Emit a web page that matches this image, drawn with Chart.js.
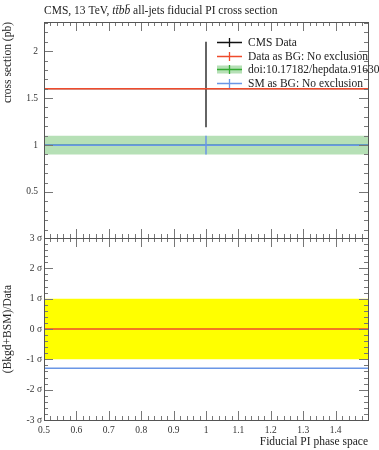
<!DOCTYPE html>
<html><head><meta charset="utf-8">
<script src="https://cdn.jsdelivr.net/npm/chart.js@4/dist/chart.umd.min.js"></script>
<style>
html,body{margin:0;padding:0;background:#fff;}
#wrap{position:relative;width:379px;height:450px;overflow:hidden;background:#fff;}
#top{position:absolute;left:0;top:0;}
#bot{position:absolute;left:0;top:230px;}
</style></head><body>
<div id="wrap"><canvas id="top" width="379" height="240"></canvas><canvas id="bot" width="379" height="220"></canvas></div>
<script>
// ---- data ----
const xRange = [0.5, 1.5];
const xTickLabels = [0.5, 0.6, 0.7, 0.8, 0.9, 1, 1.1, 1.2, 1.3, 1.4];
const yTopTicks = [0.5, 1, 1.5, 2];
const yTopRange = [0.01, 2.31];
const yBotTicks = [-3, -2, -1, 0, 1, 2, 3];
const yBotRange = [-3, 3];
const binCenter = [1.0];
const cmsValue = [1.6];
const cmsErrUp = [2.1];
const cmsErrDown = [1.19];
const dataAsBG = [1.6];
const smRef = [1.0];
const smRefUp = [1.1];
const smRefDown = [0.9];
const smAsBG = [1.0];
const pullDataAsBG = [0];
const pullSMAsBG = [-1.29];
const pullBand = [-1, 1];
const legendLabels = ["CMS Data", "Data as BG: No exclusion", "doi:10.17182/hepdata.91630", "SM as BG: No exclusion"];

const RED = '#ef4b2c', BLUE = '#6a96e6', GREEN = '#33aa33', GREENBAND = '#b6e0b6', YELLOW = '#ffff00';
const SERIF = '"Liberation Serif", "DejaVu Serif", serif';

function hline(v, x0, x1) { return [{x: x0, y: v}, {x: x1, y: v}]; }
function noPad(s) { s.paddingTop = 0; s.paddingBottom = 0; s.paddingLeft = 0; s.paddingRight = 0; }

function frame(chart, yId, yMajor, yStepMinor, yMin, yMax) {
  const ctx = chart.ctx, a = chart.chartArea;
  const xs = chart.scales.x, ys = chart.scales[yId];
  ctx.save();
  ctx.strokeStyle = '#777';
  ctx.lineWidth = 1;
  ctx.beginPath();
  for (let i = 1; i < 50; i++) {
    const v = xRange[0] + i * 0.02;
    const px = Math.round(xs.getPixelForValue(v)) + 0.5;
    const len = (i % 5 === 0) ? 9 : 4;
    ctx.moveTo(px, a.bottom); ctx.lineTo(px, a.bottom - len);
    ctx.moveTo(px, a.top); ctx.lineTo(px, a.top + len);
  }
  const start = Math.ceil(yMin / yStepMinor - 1e-6);
  for (let k = start; k * yStepMinor <= yMax + 1e-9; k++) {
    const v = k * yStepMinor;
    const py = Math.round(ys.getPixelForValue(v)) + 0.5;
    const major = yMajor.some(m => Math.abs(m - v) < 1e-6);
    const len = major ? 9 : 4;
    ctx.moveTo(a.left, py); ctx.lineTo(a.left + len, py);
    ctx.moveTo(a.right, py); ctx.lineTo(a.right - len, py);
  }
  ctx.stroke();
  ctx.strokeStyle = '#555';
  ctx.strokeRect(Math.round(a.left) + 0.5, Math.round(a.top) + 0.5, Math.round(a.right - a.left), Math.round(a.bottom - a.top));
  ctx.restore();
}

const topPlugin = {
  id: 'topDeco',
  afterDraw(chart) {
    frame(chart, 'y', yTopTicks, 0.1, yTopRange[0], yTopRange[1]);
    const ctx = chart.ctx;
    ctx.save();
    ctx.fillStyle = '#222';
    ctx.textBaseline = 'alphabetic';
    let x = 44;
    const parts = [["CMS, 13 TeV, ", false], ["tt\u0304bb\u0304", true], [" all-jets fiducial PI cross section", false]];
    for (const [t, it] of parts) {
      ctx.font = (it ? 'italic ' : '') + '11.5px ' + SERIF;
      ctx.fillText(t, x, 14);
      x += ctx.measureText(t).width;
    }
    const colors = ['#111', RED, GREEN, BLUE];
    const lx0 = 217, lx1 = 242, tx = 248;
    ctx.font = '11.5px ' + SERIF;
    legendLabels.forEach((lab, i) => {
      const y = Math.round(42 + i * 13.7) + 0.5;
      if (i === 2) { ctx.fillStyle = GREENBAND; ctx.fillRect(lx0, y - 4, lx1 - lx0, 8); }
      ctx.strokeStyle = colors[i]; ctx.lineWidth = 1.3;
      ctx.beginPath();
      ctx.moveTo(lx0, y); ctx.lineTo(lx1, y);
      ctx.moveTo(229.5, y - 4.5); ctx.lineTo(229.5, y + 4.5);
      ctx.stroke();
      ctx.fillStyle = '#222'; ctx.textBaseline = 'middle';
      ctx.fillText(lab, tx, y + 0.5);
    });
    ctx.restore();
  }
};
const botPlugin = {
  id: 'botDeco',
  afterDraw(chart) { frame(chart, 'y', yBotTicks, 0.2, yBotRange[0], yBotRange[1]); }
};

const lineDS = (label, data, color, width, order, extra) => Object.assign({
  label, data, borderColor: color, borderWidth: width, pointRadius: 0, fill: false, order, tension: 0
}, extra || {});

const x0 = xRange[0], x1 = xRange[1];
new Chart(document.getElementById('top'), {
  type: 'line',
  data: { datasets: [
    lineDS(legendLabels[2] + ' band', hline(smRefUp[0], x0, x1), 'rgba(0,0,0,0)', 0, 10, {fill: {value: smRefDown[0]}, backgroundColor: GREENBAND}),
    lineDS(legendLabels[2], hline(smRef[0], x0, x1), GREEN, 1.5, 9),
    lineDS(legendLabels[0] + ' x', hline(cmsValue[0], x0, x1), '#111', 1.3, 8),
    lineDS(legendLabels[0], [{x: binCenter[0], y: cmsErrDown[0]}, {x: binCenter[0], y: cmsErrUp[0]}], '#111', 1.3, 5),
    lineDS(legendLabels[3], hline(smAsBG[0], x0, x1), BLUE, 1.7, 4),
    lineDS(legendLabels[3] + ' err', [{x: binCenter[0], y: smRefDown[0]}, {x: binCenter[0], y: smRefUp[0]}], BLUE, 1.5, 3),
    lineDS(legendLabels[1], hline(dataAsBG[0], x0, x1), RED, 1.5, 2),
  ]},
  options: {
    responsive: false, animation: false, devicePixelRatio: 1,
    layout: { padding: { top: 22, right: 11, bottom: 2, left: 0 } },
    plugins: { legend: { display: false }, tooltip: { enabled: false } },
    scales: {
      x: { type: 'linear', min: x0, max: x1, display: false, afterFit: noPad },
      y: {
        type: 'linear', min: yTopRange[0], max: yTopRange[1],
        grid: { display: false, drawTicks: false }, border: { display: false },
        afterFit(s) { s.width = 44; noPad(s); },
        afterBuildTicks(s) { s.ticks = yTopTicks.map(v => ({value: v})); },
        ticks: { padding: 6, color: '#333', font: { family: SERIF, size: 9.5 }, callback: v => String(v) },
        title: { display: true, text: 'cross section (pb)', align: 'end', color: '#222', font: { family: SERIF, size: 11.5 }, padding: { top: 1, bottom: 0 } }
      }
    }
  },
  plugins: [topPlugin]
});

new Chart(document.getElementById('bot'), {
  type: 'line',
  data: { datasets: [
    lineDS('band', hline(pullBand[1], x0, x1), 'rgba(0,0,0,0)', 0, 10, {fill: {value: pullBand[0]}, backgroundColor: YELLOW}),
    lineDS(legendLabels[1], hline(pullDataAsBG[0], x0, x1), RED, 1.5, 2),
    lineDS(legendLabels[3], hline(pullSMAsBG[0], x0, x1), BLUE, 1.5, 3),
  ]},
  options: {
    responsive: false, animation: false, devicePixelRatio: 1,
    layout: { padding: { top: 8, right: 11, bottom: 0, left: 0 } },
    plugins: { legend: { display: false }, tooltip: { enabled: false } },
    scales: {
      x: {
        type: 'linear', min: x0, max: x1,
        grid: { display: false, drawTicks: false }, border: { display: false },
        afterFit(s) { s.height = 30; noPad(s); },
        afterBuildTicks(s) { s.ticks = xTickLabels.map(v => ({value: v})); },
        ticks: { padding: 5, color: '#333', autoSkip: false, maxRotation: 0, font: { family: SERIF, size: 9.5 }, callback: v => String(v) },
        title: { display: true, text: 'Fiducial PI phase space', align: 'end', color: '#222', font: { family: SERIF, size: 11.5 }, padding: { top: 0, bottom: 1 } }
      },
      y: {
        type: 'linear', min: yBotRange[0], max: yBotRange[1],
        grid: { display: false, drawTicks: false }, border: { display: false },
        afterFit(s) { s.width = 44; noPad(s); },
        afterBuildTicks(s) { s.ticks = yBotTicks.map(v => ({value: v})); },
        ticks: { padding: 2, color: '#333', font: { family: SERIF, size: 9.5 }, callback: v => v + ' \u03c3' },
        title: { display: true, text: '(Bkgd+BSM)/Data', align: 'center', color: '#222', font: { family: SERIF, size: 11.5 }, padding: { top: 1, bottom: 0 } }
      }
    }
  },
  plugins: [botPlugin]
});
</script>
</body></html>
